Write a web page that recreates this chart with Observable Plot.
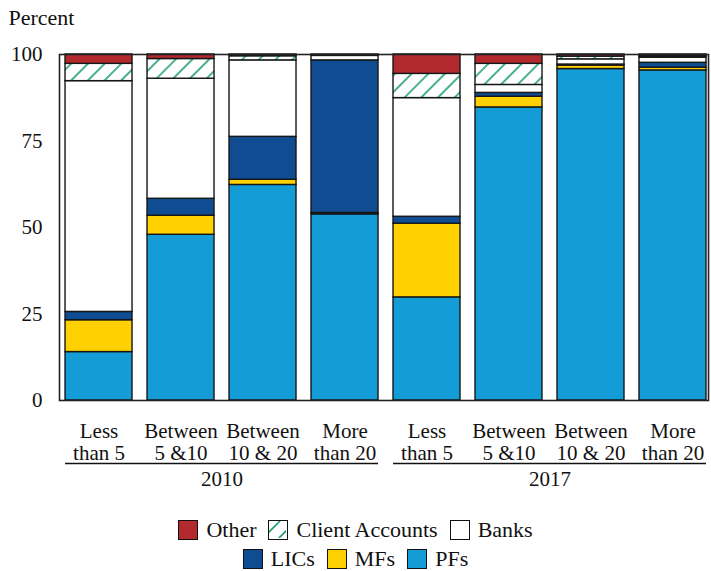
<!DOCTYPE html>
<html>
<head>
<meta charset="utf-8">
<script src="https://cdn.jsdelivr.net/npm/d3@7"></script>
<script src="https://cdn.jsdelivr.net/npm/@observablehq/plot@0.6"></script>
<style>
  html, body { margin: 0; padding: 0; background: #fff; }
  #chart { width: 711px; }
  .legend { width: 711px; padding-top: 10px; font-family: "Liberation Serif", "DejaVu Serif", serif; font-size: 22px; color: #111; }
  .row { display: flex; justify-content: center; align-items: center; height: 29px; }
  .item { display: flex; align-items: center; margin: 0 6px; }
  .sw { width: 20px; height: 20px; border: 1.5px solid #111; box-sizing: border-box; margin-right: 8px; }
  .sw svg { display: block; }
</style>
</head>
<body>
<div id="chart"></div>
<div class="legend" id="legend"></div>
<script>
// ---- data ----
const years = ["2010", "2017"];
const categories = ["Less than 5", "Between 5 &10", "Between 10 & 20", "More than 20"];
const categoryLine1 = ["Less", "Between", "Between", "More"];
const categoryLine2 = ["than 5", "5 &10", "10 & 20", "than 20"];
const seriesNames = ["PFs", "MFs", "LICs", "Banks", "Client Accounts", "Other"];
// values in order: 2010 (4 categories), then 2017 (4 categories)
const PFs            = [14.0, 47.9, 62.3, 53.8, 29.8, 84.7, 95.8, 95.4];
const MFs            = [ 9.2,  5.5,  1.5,  0.4, 21.3,  3.1,  1.0,  0.8];
const LICs           = [ 2.4,  4.9, 12.4, 44.1,  2.0,  1.1,  0.3,  1.4];
const Banks          = [66.7, 34.7, 22.1,  1.3, 34.3,  2.3,  1.5,  1.5];
const ClientAccounts = [ 5.0,  5.7,  1.2,  0.2,  7.0,  6.1,  0.8,  0.4];
const Other          = [ 2.7,  1.3,  0.5,  0.2,  5.6,  2.7,  0.6,  0.5];
const yTicks = [0, 25, 50, 75, 100];
const seriesColors = ["#139CD6", "#FFD100", "#0F4C92", "#FFFFFF", "url(#hatchCA)", "#B22A2E"];

// ---- build table ----
const seriesValues = [PFs, MFs, LICs, Banks, ClientAccounts, Other];
const keys = [];
const line1 = {}, line2 = {};
years.forEach((yr) => categories.forEach((c, ci) => {
  const k = yr + "|" + c;
  keys.push(k);
  line1[k] = categoryLine1[ci];
  line2[k] = categoryLine2[ci];
}));
const rows = [];
seriesNames.forEach((s, si) => keys.forEach((k, ki) => {
  rows.push({key: k, series: s, value: seriesValues[si][ki]});
}));
const groups = years.map(yr => ({
  year: yr,
  first: yr + "|" + categories[0],
  last: yr + "|" + categories[categories.length - 1],
  mid: yr + "|" + categories[1]
}));

const defs = () => {
  const d = d3.create("svg:defs");
  const p = d.append("pattern").attr("id", "hatchCA").attr("patternUnits", "userSpaceOnUse")
    .attr("width", 11.8).attr("height", 11.8).attr("patternTransform", "rotate(45)");
  p.append("rect").attr("width", 11.8).attr("height", 11.8).attr("fill", "#fff");
  p.append("line").attr("x1", 1).attr("x2", 1).attr("y1", 0).attr("y2", 11.8)
    .attr("stroke", "#1B9E6B").attr("stroke-width", 1.6);
  return d.node();
};

const chart = Plot.plot({
  width: 711,
  height: 505,
  marginLeft: 59,
  marginRight: 3,
  marginTop: 54,
  marginBottom: 105,
  style: {fontFamily: "'Liberation Serif', 'DejaVu Serif', serif", fontSize: "22px", background: "#fff", color: "#111", overflow: "visible"},
  x: {domain: keys, axis: null, paddingInner: 0.183, paddingOuter: 0.049, align: 0.75, round: false},
  y: {domain: [0, 100], axis: null},
  color: {domain: seriesNames, range: seriesColors},
  marks: [
    defs,
    Plot.barY(rows, {x: "key", y: "value", fill: "series", order: seriesNames, stroke: "#161616", strokeWidth: 1.4}),
    Plot.frame({stroke: "#222", strokeWidth: 1.6}),
    Plot.axisY({ticks: yTicks, tickSize: 0, tickPadding: 17, label: null, fontSize: 21}),
    Plot.text(keys, {x: d => d, text: d => line1[d], frameAnchor: "bottom", dy: 31, lineAnchor: "middle", fontSize: 21, fill: "#111"}),
    Plot.text(keys, {x: d => d, text: d => line2[d], frameAnchor: "bottom", dy: 53, lineAnchor: "middle", fontSize: 21, fill: "#111"}),
    Plot.ruleY(groups, {x1: "first", x2: "last", y: 0, dy: 63, stroke: "#111", strokeWidth: 1.5}),
    Plot.text(groups, {x: "mid", text: "year", frameAnchor: "bottom", dx: 41, dy: 79, lineAnchor: "middle", fontSize: 21, fill: "#111"}),
    Plot.text(["Percent"], {frameAnchor: "top-left", text: d => d, dx: -51, dy: -37, textAnchor: "start", lineAnchor: "middle", fontSize: 22, fill: "#111"})
  ]
});
document.getElementById("chart").appendChild(chart);

// ---- legend ----
const legendRows = [["Other", "Client Accounts", "Banks"], ["LICs", "MFs", "PFs"]];
const legend = document.getElementById("legend");
legendRows.forEach(r => {
  const row = document.createElement("div");
  row.className = "row";
  r.forEach(name => {
    const item = document.createElement("div");
    item.className = "item";
    const sw = document.createElement("div");
    sw.className = "sw";
    const col = seriesColors[seriesNames.indexOf(name)];
    if (col.startsWith("url")) {
      sw.innerHTML = '<svg width="17" height="17"><line x1="-4" y1="15" x2="11" y2="0" stroke="#1B9E6B" stroke-width="1.6"/><line x1="6" y1="21" x2="21" y2="6" stroke="#1B9E6B" stroke-width="1.6"/></svg>';
      sw.style.background = "#fff";
    } else {
      sw.style.background = col;
    }
    const t = document.createElement("span");
    t.textContent = name;
    item.appendChild(sw);
    item.appendChild(t);
    row.appendChild(item);
  });
  legend.appendChild(row);
});
</script>
</body>
</html>
